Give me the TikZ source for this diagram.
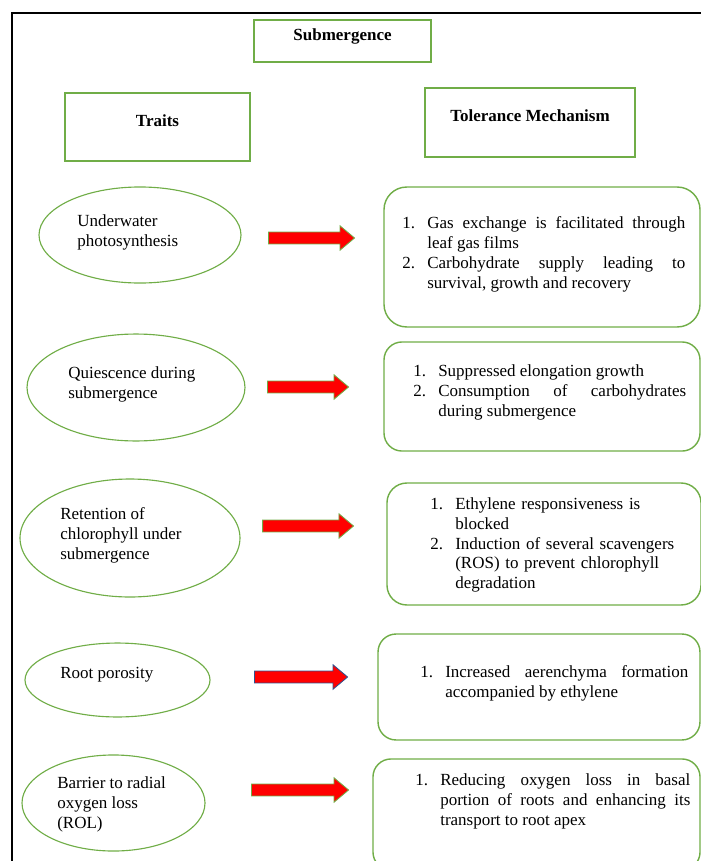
\documentclass[tikz,border=0pt]{standalone}
\usepackage{fontspec}
\setmainfont{Liberation Serif}
\usetikzlibrary{positioning, shapes.geometric, shapes.arrows}

\definecolor{framegreen}{RGB}{112,173,71}
\definecolor{outlineblue}{RGB}{47,82,143}
\newcommand{\bodyfont}{\fontsize{12}{14.1}\selectfont}
\newcommand{\mechitem}[2]{\noindent\hangindent=17.65pt\hangafter=1\makebox[17.65pt][l]{#1}#2\par}
\hyphenpenalty=10000
\tolerance=9999

\begin{document}
\begin{tikzpicture}[x=0.706pt, y=-0.706pt,
    head/.style={draw=framegreen, line width=1.2pt, rectangle, font=\bodyfont\bfseries, text height=8.5pt, text depth=9.5pt},
    trait/.style={draw=framegreen, line width=0.8pt, ellipse, inner sep=0pt},
    traittext/.style={anchor=north west, inner sep=0pt, align=left, font=\bodyfont},
    mech/.style={draw=framegreen, line width=1pt, rectangle, inner sep=0pt},
    mechtext/.style={anchor=north west, inner sep=0pt, font=\bodyfont, align=justify},
    blockarrow/.style={single arrow, fill=red, draw=framegreen, line width=0.6pt, inner xsep=0pt, inner ysep=3.9pt, single arrow head extend=4.4pt, single arrow tip angle=80}]

    \useasboundingbox (0,0) rectangle (701,861);
    \clip (0,0) rectangle (701,861);
    \draw[line width=2pt] (12,880) -- (12,13) -- (720,13);

    % Headings
    \node[head, minimum width=125pt, minimum height=29.7pt] (sub) at (342.5,41) {Submergence};
    \node[head, minimum width=130.6pt, minimum height=48pt] (traits) at (157.5,127) {Traits};
    \node[head, minimum width=148.3pt, minimum height=48.7pt] (mech) at (530,122.5) {Tolerance Mechanism};

    % Traits
    \node[trait, minimum width=142.6pt, minimum height=67.8pt] (tr1) at (140,235) {};
    \node[traittext] (tr1txt) at (77,214) {Underwater\\photosynthesis};
    \node[trait, minimum width=153.9pt, minimum height=75.5pt] (tr2) at (136,387.5) {};
    \node[traittext] (tr2txt) at (68,366) {Quiescence during\\submergence};
    \node[trait, minimum width=155.3pt, minimum height=83.3pt] (tr3) at (130,538) {};
    \node[traittext] (tr3txt) at (60,507) {Retention of\\chlorophyll under\\submergence};
    \node[trait, minimum width=130.6pt, minimum height=52.2pt] (tr4) at (117.5,680) {};
    \node[traittext] (tr4txt) at (60,667) {Root porosity};
    \node[trait, minimum width=129.2pt, minimum height=67.8pt] (tr5) at (113.5,803) {};
    \node[traittext] (tr5txt) at (57,776) {Barrier to radial\\oxygen loss\\(ROL)};

    % Mechanisms
    \node[mech, rounded corners=16pt, minimum width=223.1pt, minimum height=98.8pt] (tm1) at (542,257) {};
    \node[mechtext, text width=199.8pt] (tm1txt) at (402,216) {\mechitem{1.}{Gas exchange is facilitated through leaf gas films}\mechitem{2.}{Carbohydrate supply leading to survival, growth and recovery}};
    \node[mech, rounded corners=12.7pt, minimum width=223.1pt, minimum height=77pt] (tm2) at (542,396.5) {};
    \node[mechtext, text width=192.7pt] (tm2txt) at (413,364) {\mechitem{1.}{Suppressed elongation growth}\mechitem{2.}{Consumption of carbohydrates during submergence}};
    \node[mech, rounded corners=14pt, minimum width=221.7pt, minimum height=86.1pt] (tm3) at (544,544) {};
    \node[mechtext, text width=177.7pt, align=left] (tm3txt) at (430,497) {\raggedright\mechitem{1.}{Ethylene responsiveness is blocked}\mechitem{2.}{Induction of several scavengers (ROS) to prevent chlorophyll degradation}};
    \node[mech, rounded corners=12.7pt, minimum width=227.3pt, minimum height=74.8pt] (tm4) at (539,687) {};
    \node[mechtext, text width=189.2pt] (tm4txt) at (420,665) {\mechitem{1.}{Increased aerenchyma formation accompanied by ethylene}};
    \node[mech, rounded corners=12.7pt, minimum width=230.9pt, minimum height=78.4pt] (tm5) at (536.5,814.5) {};
    \node[mechtext, text width=194.2pt] (tm5txt) at (415,773) {\mechitem{1.}{Reducing oxygen loss in basal portion of roots and enhancing its transport to root apex}};

    % Arrows
    \node[blockarrow, minimum height=60.7pt] (ar1) at (308,238) {};
    \node[blockarrow, minimum height=57.2pt] (ar2) at (304.5,387) {};
    \node[blockarrow, minimum height=64.2pt] (ar3) at (304.5,526) {};
    \node[blockarrow, draw=outlineblue, minimum height=65.7pt] (ar4) at (297.5,677) {};
    \node[blockarrow, minimum height=68.5pt] (ar5) at (296.5,790) {};
\end{tikzpicture}
\end{document}
